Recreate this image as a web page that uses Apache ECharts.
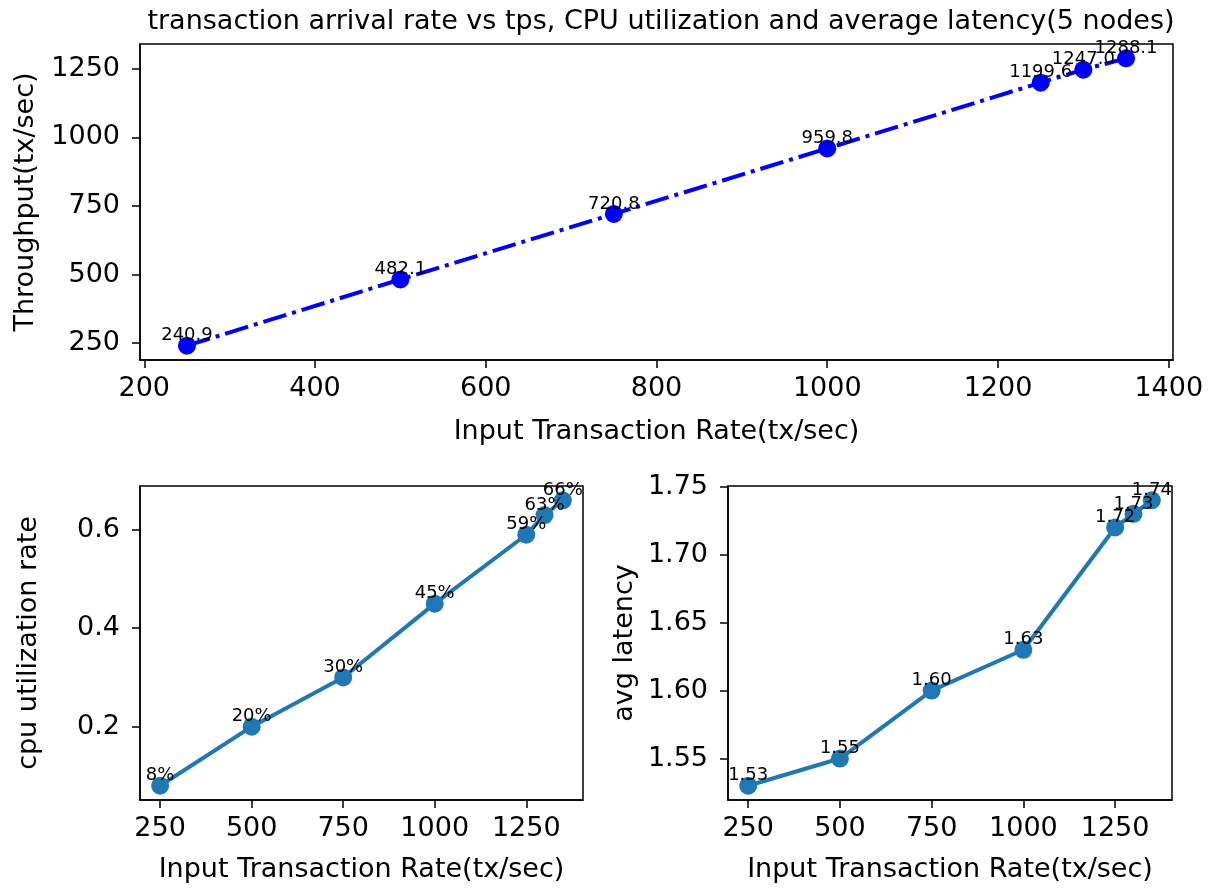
<!DOCTYPE html>
<html>
<head>
<meta charset="utf-8">
<script src="https://cdn.jsdelivr.net/npm/echarts@6/dist/echarts.min.js"></script>
<style>
html,body{margin:0;padding:0;background:#fff;}
#chart{width:1210px;height:888px;}
</style>
</head>
<body>
<div id="chart"></div>
<script>
var inputRate = [250, 500, 750, 1000, 1250, 1300, 1350];
var throughput = [240.9, 482.1, 720.8, 959.8, 1199.6, 1247.0, 1288.1];
var cpuRate = [0.08, 0.20, 0.30, 0.45, 0.59, 0.63, 0.66];
var avgLatency = [1.53, 1.55, 1.60, 1.63, 1.72, 1.73, 1.74];

var topXTicks = [200, 400, 600, 800, 1000, 1200, 1400];
var topYTicks = [250, 500, 750, 1000, 1250];
var botXTicks = [250, 500, 750, 1000, 1250];
var cpuYTicks = [0.2, 0.4, 0.6];
var latYTicks = [1.55, 1.60, 1.65, 1.70, 1.75];

var titleText = 'transaction arrival rate vs tps, CPU utilization and average latency(5 nodes)';
var xName = 'Input Transaction Rate(tx/sec)';

var FONT = 'DejaVu Sans';
var FS = 27;
var LFS = 18;

function pairs(xs, ys) { return xs.map(function (x, i) { return [x, ys[i]]; }); }
function padRange(arr) {
  var mn = Math.min.apply(null, arr), mx = Math.max.apply(null, arr);
  var p = (mx - mn) * 0.05;
  return [mn - p, mx + p];
}

var xr = padRange(inputRate);
var tr = padRange(throughput);
var cr = padRange(cpuRate);
var lr = padRange(avgLatency);

function xAxis(gi, ticks, gap) {
  return {
    type: 'value', gridIndex: gi, min: xr[0], max: xr[1],
    name: xName, nameLocation: 'middle', nameGap: gap,
    nameTextStyle: { fontFamily: FONT, fontSize: FS, color: '#000' },
    axisLine: { show: true, lineStyle: { color: '#000', width: 1.5 } },
    axisTick: { show: true, inside: false, length: 8, customValues: ticks, lineStyle: { color: '#000', width: 1.5 } },
    axisLabel: { show: true, customValues: ticks, margin: 15, fontFamily: FONT, fontSize: FS, color: '#000',
      formatter: function (v) { return String(Math.round(v)); } },
    splitLine: { show: false }
  };
}
function yAxis(gi, rng, ticks, name, gap, fmt) {
  return {
    type: 'value', gridIndex: gi, min: rng[0], max: rng[1],
    name: name, nameLocation: 'middle', nameGap: gap, nameRotate: 90,
    nameTextStyle: { fontFamily: FONT, fontSize: FS, color: '#000' },
    axisLine: { show: true, lineStyle: { color: '#000', width: 1.5 } },
    axisTick: { show: true, inside: false, length: 8, customValues: ticks, lineStyle: { color: '#000', width: 1.5 } },
    axisLabel: { show: true, customValues: ticks, margin: 20, fontFamily: FONT, fontSize: FS, color: '#000', formatter: fmt },
    splitLine: { show: false }
  };
}
function lineSeries(xi, yi, data, color, lineType, fmt) {
  return {
    type: 'line', xAxisIndex: xi, yAxisIndex: yi, data: data,
    symbol: 'circle', symbolSize: 18, showSymbol: true,
    itemStyle: { color: color },
    lineStyle: { color: color, width: 4, type: lineType, cap: 'butt' },
    label: {
      show: true, position: 'top', distance: -8,
      fontFamily: FONT, fontSize: LFS, color: '#000',
      formatter: function (p) { return fmt(p.value[1]); }
    },
    animation: false, z: 3
  };
}

var chart = echarts.init(document.getElementById('chart'), null, { renderer: 'canvas' });
chart.setOption({
  animation: false,
  backgroundColor: '#fff',
  title: {
    text: titleText, left: 656, top: 3, textAlign: 'center',
    textStyle: { fontFamily: FONT, fontSize: FS, fontWeight: 'normal', color: '#000' }
  },
  grid: [
    { left: 140, top: 44, width: 1033, height: 316, show: true, borderColor: '#000', borderWidth: 1.5, backgroundColor: 'transparent' },
    { left: 140, top: 486, width: 443, height: 314, show: true, borderColor: '#000', borderWidth: 1.5, backgroundColor: 'transparent' },
    { left: 728, top: 486, width: 444, height: 314, show: true, borderColor: '#000', borderWidth: 1.5, backgroundColor: 'transparent' }
  ],
  xAxis: [
    xAxis(0, topXTicks, 58),
    xAxis(1, botXTicks, 56),
    xAxis(2, botXTicks, 56)
  ],
  yAxis: [
    yAxis(0, tr, topYTicks, 'Throughput(tx/sec)', 101, function (v) { return String(Math.round(v)); }),
    yAxis(1, cr, cpuYTicks, 'cpu utilization rate', 98, function (v) { return v.toFixed(1); }),
    yAxis(2, lr, latYTicks, 'avg latency', 90, function (v) { return v.toFixed(2); })
  ],
  series: [
    lineSeries(0, 0, pairs(inputRate, throughput), '#0000ff', [24, 6, 4, 6], function (v) { return v.toFixed(1); }),
    lineSeries(1, 1, pairs(inputRate, cpuRate), '#1f77b4', 'solid', function (v) { return Math.round(v * 100) + '%'; }),
    lineSeries(2, 2, pairs(inputRate, avgLatency), '#1f77b4', 'solid', function (v) { return v.toFixed(2); })
  ]
});
</script>
</body>
</html>
